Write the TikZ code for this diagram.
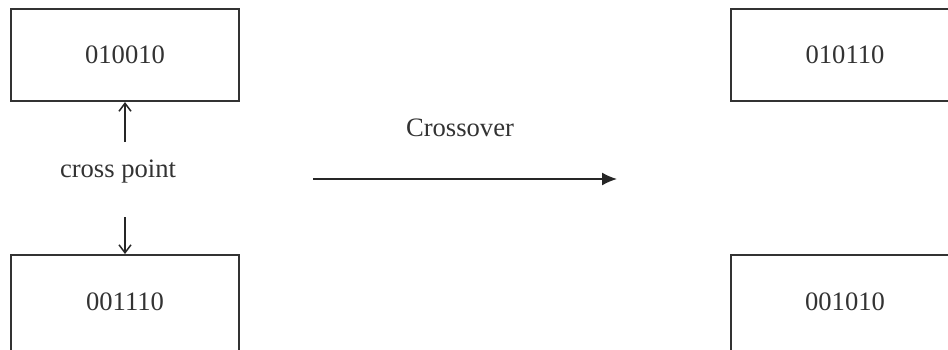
\documentclass[tikz,border=0pt]{standalone}
\usepackage{fontspec}
\setmainfont{Liberation Serif}
\usetikzlibrary{arrows.meta}

\begin{document}
\begin{tikzpicture}[
      x=0.5pt, y=-0.5pt,
      >={Straight Barb[length=4pt, width=6pt]},
      box/.style={draw=black!80, line width=1pt, minimum width=114pt,
                  minimum height=46pt, inner sep=0pt, text=black!80,
                  font=\fontsize{13.3}{16}\selectfont},
      lowbox/.style={box, minimum height=52pt, text height=8.8pt, text depth=5.8pt},
      lbl/.style={text=black!80, font=\fontsize{13.3}{16}\selectfont},
      conn/.style={draw=black!85, line width=0.75pt}]
    \useasboundingbox (0,0) rectangle (948,349);
    \clip (0,0) rectangle (948,349);
    % parents (left) and children (right)
    \node[box] (pa) at (125,55) {010010};
    \node[lowbox] (pb) at (125,307) {001110};
    \node[box] (ca) at (845,55) {010110};
    \node[lowbox] (cb) at (845,307) {001010};
    % cross point marker
    \node[lbl] (cp) at (118,172) {cross point};
    \coordinate (cpup) at (125,142);
    \coordinate (cpdn) at (125,217);
    \draw[conn, ->] (cpup) -- (pa.south);
    \draw[conn, ->] (cpdn) -- (pb.north);
    % crossover step
    \node[lbl] (xo) at (460,128) {Crossover};
    \coordinate (xs) at (313,179);
    \coordinate (xe) at (617,179);
    \draw[conn, -{Latex[length=7.5pt, width=6.5pt]}] (xs) -- (xe);
\end{tikzpicture}
\end{document}
